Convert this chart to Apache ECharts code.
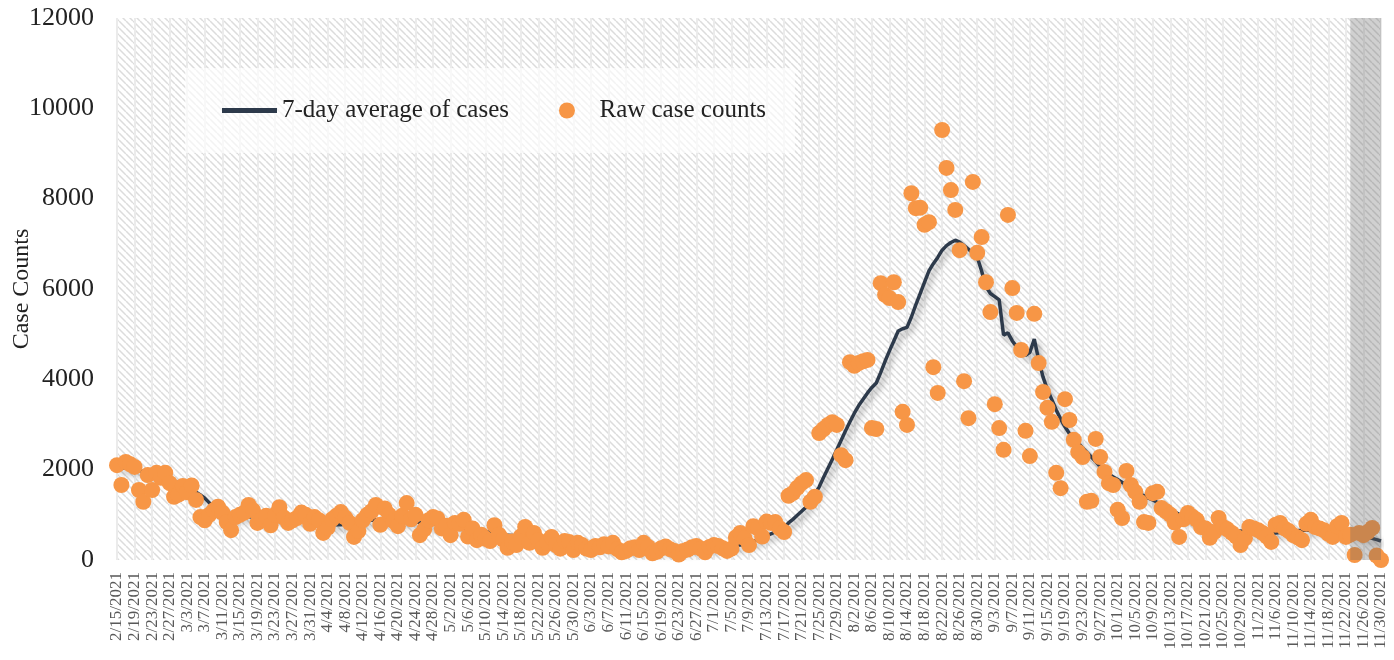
<!DOCTYPE html>
<html>
<head>
<meta charset="utf-8">
<script src="https://cdn.jsdelivr.net/npm/echarts@6/dist/echarts.min.js"></script>
<style>
  * { margin: 0; padding: 0; }
  body { background: #fff; }
  #chart { width: 1394px; height: 660px; }
</style>
</head>
<body>
<div id="chart"></div>
<script>
// daily categories 2/15/2021 .. 11/30/2021
var dates = [];
for (var i = 0; i < 289; i++) {
  var d = new Date(2021, 1, 15 + i);
  dates.push((d.getMonth() + 1) + '/' + d.getDate() + '/2021');
}

// raw daily case counts (Feb .. Nov)
var rawFeb = [2100, 1660, 2170, 2120, 2060, 1550, 1290, 1880, 1550, 1930, 1820, 1930, 1700, 1400];
var rawMar = [1450, 1640, 1500, 1650, 1330, 950, 880, 1000, 1100, 1180, 1050, 840, 660, 950, 1000, 1050,
  1220, 1100, 820, 900, 980, 770, 1000, 1170, 940, 820, 880, 930, 1050, 1000, 800];
var rawApr = [950, 880, 600, 720, 900, 980, 1060, 940, 820, 510, 640, 880, 1000, 1080, 1220, 780, 1140,
  1000, 860, 750, 980, 1260, 900, 1000, 550, 680, 880, 950, 920, 700];
var rawMay = [760, 550, 820, 800, 890, 520, 700, 440, 560, 470, 420, 770, 560, 450, 270, 410, 330, 520,
  730, 380, 600, 440, 270, 380, 510, 330, 250, 420, 400, 220, 380];
var rawJun = [330, 250, 220, 310, 280, 350, 300, 380, 240, 170, 200, 260, 280, 220, 380, 290, 150, 180,
  260, 300, 240, 200, 120, 200, 230, 280, 310, 250, 170, 290];
var rawJul = [330, 310, 260, 200, 250, 500, 600, 480, 330, 750, 700, 520, 850, 820, 840, 700, 620, 1420,
  1480, 1600, 1700, 1770, 1290, 1400, 2810, 2900, 2990, 3050, 2990, 2320, 2210];
var rawAug = [4380, 4300, 4360, 4400, 4430, 2920, 2900, 6130, 5870, 5800, 6150, 5710, 3280, 2990, 8120,
  7790, 7800, 7420, 7480, 4270, 3700, 9520, 8680, 8190, 7750, 6860, 3960, 3140, 8370, 6800, 7150];
var rawSep = [6150, 5490, 3450, 2920, 2440, 7640, 6020, 5470, 4650, 2860, 2300, 5450, 4360, 3720, 3370,
  3060, 1930, 1590, 3560, 3100, 2660, 2390, 2280, 1290, 1310, 2680, 2280, 1950, 1700, 1660];
var rawOct = [1110, 930, 1970, 1660, 1510, 1290, 840, 820, 1480, 1510, 1150, 1080, 1000, 830, 510, 900,
  1040, 960, 890, 730, 700, 490, 620, 930, 730, 680, 600, 520, 330, 480, 730];
var rawNov = [700, 660, 600, 520, 400, 780, 820, 700, 640, 550, 500, 440, 800, 890, 730, 700, 660, 580,
  510, 750, 820, 510, 560, 110, 600, 550, 620, 710, 100, 0];

// 7-day average line
var avgFeb = [2050, 2040, 2030, 2020, 2000, 1980, 1960, 1940, 1910, 1880, 1850, 1820, 1790, 1760];
var avgMar = [1700, 1650, 1600, 1560, 1500, 1440, 1370, 1270, 1170, 1080, 1020, 990, 980, 970, 960, 950,
  950, 960, 980, 990, 990, 980, 960, 950, 940, 930, 930, 920, 910, 900, 890];
var avgApr = [860, 840, 820, 800, 790, 780, 780, 790, 800, 820, 840, 860, 870, 880, 890, 890, 890, 880,
  880, 870, 870, 860, 850, 840, 830, 820, 810, 800, 790, 780];
var avgMay = [770, 760, 740, 720, 700, 690, 680, 670, 650, 630, 610, 590, 570, 560, 550, 540, 530, 510,
  490, 470, 460, 450, 440, 430, 420, 410, 400, 390, 380, 380, 380];
var avgJun = [370, 360, 350, 340, 330, 320, 310, 300, 290, 280, 270, 260, 250, 250, 250, 250, 250, 250,
  250, 250, 240, 240, 240, 240, 250, 250, 260, 270, 280, 290];
var avgJul = [290, 300, 300, 310, 310, 320, 330, 350, 380, 410, 450, 500, 540, 580, 620, 660, 720, 820,
  900, 990, 1080, 1170, 1300, 1460, 1620, 1830, 2030, 2230, 2440, 2650, 2860];
var avgAug = [3060, 3250, 3420, 3560, 3700, 3820, 3920, 4150, 4400, 4630, 4850, 5070, 5120, 5150, 5380,
  5650, 5900, 6150, 6400, 6560, 6700, 6860, 6960, 7030, 7080, 7040, 6960, 6880, 6800, 6710, 6400];
var avgSep = [6050, 5900, 5830, 5760, 4980, 5030, 4850, 4720, 4630, 4530, 4600, 4890, 4430, 4050, 3770,
  3550, 3320, 3120, 2950, 2800, 2690, 2590, 2480, 2380, 2280, 2180, 2070, 1980, 1900, 1840];
var avgOct = [1780, 1720, 1660, 1590, 1530, 1470, 1420, 1370, 1330, 1280, 1220, 1160, 1110, 1060, 1010,
  960, 920, 880, 850, 820, 790, 760, 730, 710, 690, 680, 670, 660, 640, 630, 620];
var avgNov = [610, 600, 600, 590, 590, 600, 610, 620, 630, 640, 650, 660, 660, 660, 660, 660, 660, 660,
  650, 640, 620, 600, 580, 560, 540, 520, 500, 480, 450, 420];

var rawCounts = [].concat(rawFeb, rawMar, rawApr, rawMay, rawJun, rawJul, rawAug, rawSep, rawOct, rawNov);
var avgCounts = [].concat(avgFeb, avgMar, avgApr, avgMay, avgJun, avgJul, avgAug, avgSep, avgOct, avgNov);

var yTicks = { min: 0, max: 12000, step: 2000 };
var shadeRange = ['11/23/2021', '11/30/2021'];

var serif = "'Liberation Serif', 'DejaVu Serif', serif";

// diagonal hatch used as plot background
function hatch() {
  var s = 7;
  var c = document.createElement('canvas');
  c.width = s; c.height = s;
  var ctx = c.getContext('2d');
  ctx.fillStyle = '#ffffff';
  ctx.fillRect(0, 0, s, s);
  ctx.strokeStyle = '#dcdcdc';
  ctx.lineWidth = 1.5;
  ctx.beginPath();
  for (var k = -s; k <= s; k += s) {
    ctx.moveTo(k, 0);
    ctx.lineTo(k + s, s);
  }
  ctx.stroke();
  return c;
}

var chart = echarts.init(document.getElementById('chart'));
chart.setOption({
  animation: false,
  backgroundColor: '#fff',
  grid: {
    left: 117, right: 13, top: 18, bottom: 100,
    outerBoundsMode: 'none',
    containLabel: false,
    show: true, borderWidth: 0,
    backgroundColor: { image: hatch(), repeat: 'repeat' }
  },
  legend: {
    left: 185, top: 68,
    padding: [30, 29, 30, 37],
    itemGap: 50, itemWidth: 55, itemHeight: 16,
    backgroundColor: 'rgba(255,255,255,0.65)',
    textStyle: { fontFamily: serif, fontSize: 25, color: '#222' },
    data: [
      { name: '7-day average of cases', icon: 'path://M0,0 L55,0 L55,5 L0,5 Z' },
      { name: 'Raw case counts', icon: 'circle' }
    ]
  },
  xAxis: {
    type: 'category',
    data: dates,
    boundaryGap: false,
    axisLine: { show: false },
    axisTick: { show: false },
    axisLabel: {
      interval: 3, rotate: 90, margin: 12, hideOverlap: false,
      showMinLabel: true, showMaxLabel: true,
      textMargin: 0,
      fontFamily: serif, fontSize: 17, lineHeight: 12, color: '#595959'
    },
    splitLine: { show: true, interval: 3, lineStyle: { color: '#ebebeb', width: 2 } }
  },
  yAxis: {
    type: 'value',
    min: yTicks.min, max: yTicks.max, interval: yTicks.step,
    name: 'Case Counts',
    nameLocation: 'middle',
    nameGap: 83,
    nameMoveOverlap: false,
    nameTextStyle: { fontFamily: serif, fontSize: 24, color: '#222' },
    axisLine: { show: false },
    axisTick: { show: false },
    splitLine: { show: false },
    axisLabel: {
      fontFamily: serif, fontSize: 26, color: '#222', margin: 23,
      formatter: function (v) { return String(v); }
    }
  },
  series: [
    {
      name: '7-day average of cases',
      type: 'line',
      data: avgCounts,
      symbol: 'none',
      z: 2,
      itemStyle: { color: '#2d3a4b' },
      lineStyle: {
        color: '#2d3a4b', width: 3.5,
        shadowColor: 'rgba(0,0,0,0.35)', shadowBlur: 6, shadowOffsetX: 3, shadowOffsetY: 4
      }
    },
    {
      name: 'Raw case counts',
      type: 'scatter',
      data: rawCounts,
      symbolSize: 16,
      z: 3,
      itemStyle: { color: '#f79646', opacity: 1 },
      markArea: {
        silent: true,
        z: 5,
        itemStyle: { color: 'rgba(100,100,100,0.3)' },
        data: [[{ xAxis: shadeRange[0] }, { xAxis: shadeRange[1] }]]
      }
    }
  ]
});
</script>
</body>
</html>
